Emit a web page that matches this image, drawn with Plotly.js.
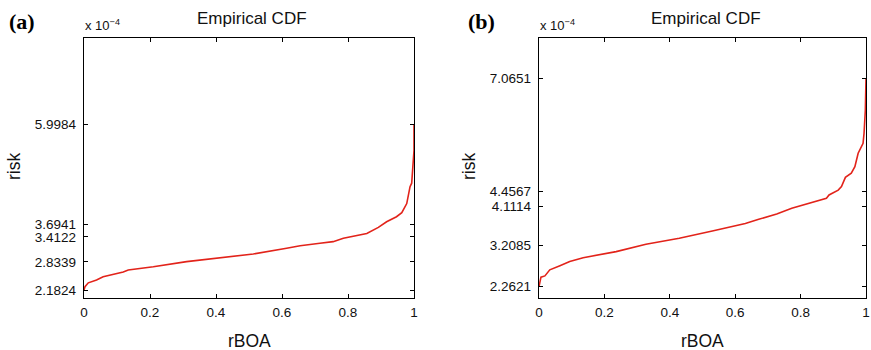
<!DOCTYPE html>
<html><head><meta charset="utf-8">
<script src="https://cdn.plot.ly/plotly-3.0.1.min.js"></script>
<style>html,body{margin:0;padding:0;background:#fff;}#chart{width:871px;height:350px;}</style>
</head><body><div id="chart"></div>
<script>
// values in units of 1e-4
const xA = [0, 0.003, 0.013, 0.038, 0.058, 0.109, 0.119, 0.134, 0.21, 0.311, 0.412, 0.513, 0.614, 0.655, 0.715, 0.755, 0.786, 0.857, 0.892, 0.917, 0.947, 0.963, 0.978, 0.988, 0.993, 0.996, 1.0, 1.0];
const yA = [2.1824, 2.26, 2.35, 2.415, 2.49, 2.57, 2.60, 2.646, 2.72, 2.84, 2.92, 3.015, 3.147, 3.207, 3.262, 3.30, 3.377, 3.49, 3.63, 3.76, 3.876, 3.97, 4.18, 4.57, 4.65, 5.03, 5.4, 5.9984];
const xB = [0, 0.003, 0.006, 0.018, 0.033, 0.064, 0.094, 0.135, 0.236, 0.327, 0.429, 0.53, 0.631, 0.672, 0.727, 0.773, 0.824, 0.879, 0.887, 0.915, 0.925, 0.937, 0.955, 0.966, 0.976, 0.991, 0.994, 0.998, 1.0];
const yB = [2.2621, 2.40, 2.48, 2.51, 2.65, 2.745, 2.84, 2.93, 3.07, 3.24, 3.377, 3.546, 3.72, 3.815, 3.94, 4.07, 4.185, 4.30, 4.377, 4.49, 4.57, 4.785, 4.88, 5.03, 5.34, 5.57, 5.80, 6.34, 7.0651];
const xTicks = [0, 0.2, 0.4, 0.6, 0.8, 1];
const xTickText = ["0", "0.2", "0.4", "0.6", "0.8", "1"];
const yTicksA = [2.1824, 2.8339, 3.4122, 3.6941, 5.9984];
const yTickTextA = ["2.1824", "2.8339", "3.4122", "3.6941", "5.9984"];
const yTicksB = [2.2621, 3.2085, 4.1114, 4.4567, 7.0651];
const yTickTextB = ["2.2621", "3.2085", "4.1114", "4.4567", "7.0651"];
const panelLabels = ["(a)", "(b)"];
const titleText = "Empirical CDF";
const xTitle = "rBOA";
const yTitle = "risk";

const red = "#e2231a";
const tickFont = {family: "Liberation Sans, Arial, sans-serif", size: 13.5, color: "#111"};
const traces = [
  {x: xA, y: yA, xaxis: "x", yaxis: "y", mode: "lines", line: {color: red, width: 1.6}, hoverinfo: "skip"},
  {x: xB, y: yB, xaxis: "x2", yaxis: "y2", mode: "lines", line: {color: red, width: 1.6}, hoverinfo: "skip"}
];
function xax(dom, anchor) {
  return {domain: dom, anchor: anchor, range: [0, 1], tickvals: xTicks, ticktext: xTickText,
    ticks: "inside", ticklen: 4, tickcolor: "#000", showline: true, linecolor: "#000", linewidth: 1.3,
    mirror: "ticks", showgrid: false, zeroline: false, tickfont: tickFont, ticklabelstandoff: 2,
    ticklabeloverflow: "allow"};
}
function yax(anchor, tv, tt) {
  return {domain: [0.1486, 0.8914], anchor: anchor, range: [2, 8], tickvals: tv, ticktext: tt,
    ticks: "inside", ticklen: 4, tickcolor: "#000", showline: true, linecolor: "#000", linewidth: 1.3,
    mirror: "ticks", showgrid: false, zeroline: false, tickfont: tickFont, ticklabelstandoff: 4};
}
const ann = [];
function addPanel(i, x0, x1) {
  const c = (x0 + x1) / 2;
  ann.push({xref: "paper", yref: "paper", x: (i === 0 ? 7 : 466) / 871, y: 1 - 21 / 350, xanchor: "left", yanchor: "middle",
    text: "<b>" + panelLabels[i] + "</b>", showarrow: false, font: {family: "Liberation Serif, Times New Roman, serif", size: 22, color: "#000"}});
  ann.push({xref: "paper", yref: "paper", x: (c + 3) / 871, y: 1 - 19 / 350, xanchor: "center", yanchor: "middle",
    text: titleText, showarrow: false, font: {family: "Liberation Sans, Arial, sans-serif", size: 17, color: "#111"}});
  ann.push({xref: "paper", yref: "paper", x: (x0 - 1) / 871, y: 1 - 25 / 350, xanchor: "left", yanchor: "middle",
    text: "x 10<sup>−4</sup>", showarrow: false, font: {family: "Liberation Sans, Arial, sans-serif", size: 13, color: "#111"}});
  ann.push({xref: "paper", yref: "paper", x: c / 871, y: 1 - 341 / 350, xanchor: "center", yanchor: "middle",
    text: xTitle, showarrow: false, font: {family: "Liberation Sans, Arial, sans-serif", size: 17.5, color: "#111"}});
  ann.push({xref: "paper", yref: "paper", x: (x0 - 70) / 871, y: 1 - 167 / 350, xanchor: "center", yanchor: "middle", textangle: -90,
    text: yTitle, showarrow: false, font: {family: "Liberation Sans, Arial, sans-serif", size: 17.5, color: "#111"}});
}
addPanel(0, 84, 414);
addPanel(1, 539, 866);
const layout = {
  width: 871, height: 350, margin: {l: 0, r: 0, t: 0, b: 0},
  paper_bgcolor: "#fff", plot_bgcolor: "#fff", showlegend: false,
  xaxis: xax([84 / 871, 414 / 871], "y"),
  yaxis: yax("x", yTicksA, yTickTextA),
  xaxis2: xax([539 / 871, 866 / 871], "y2"),
  yaxis2: yax("x2", yTicksB, yTickTextB),
  annotations: ann
};
Plotly.newPlot("chart", traces, layout, {staticPlot: true, displayModeBar: false});
</script></body></html>
